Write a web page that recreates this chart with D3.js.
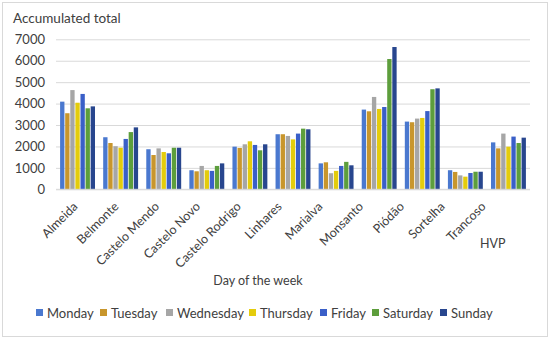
<!DOCTYPE html>
<html><head><meta charset="utf-8">
<script src="https://cdn.jsdelivr.net/npm/d3@7"></script>
<style>body{margin:0;background:#fff}svg{display:block}text{font-family:Lato,"Open Sans",sans-serif;fill:#404040}</style>
</head><body>
<svg id="c" width="550" height="340"></svg>
<script>
const categories = ["Almeida","Belmonte","Castelo Mendo","Castelo Novo","Castelo Rodrigo","Linhares","Marialva","Monsanto","Piódão","Sortelha","Trancoso"];
const days = ["Monday","Tuesday","Wednesday","Thursday","Friday","Saturday","Sunday"];
const monday    = [4090,2430,1870, 890,1990,2570,1210,3720,3160,890,2190];
const tuesday   = [3550,2160,1600, 840,1930,2570,1260,3640,3130,810,1910];
const wednesday = [4630,2010,1910,1090,2100,2490, 750,4310,3300,650,2600];
const thursday  = [4040,1940,1740, 890,2240,2330, 860,3750,3330,590,1990];
const friday    = [4450,2350,1680, 860,2070,2600,1090,3840,3650,760,2460];
const saturday  = [3780,2670,1940,1090,1820,2830,1280,6080,4670,820,2160];
const sunday    = [3870,2890,1940,1210,2100,2800,1120,6640,4710,820,2410];
const series = [monday,tuesday,wednesday,thursday,friday,saturday,sunday];
const colors = ["#4a78cf","#c8962c","#a6a6a6","#e4cc0c","#3a5fc8","#5d9e3c","#28468e"];
const yTicks = [0,1000,2000,3000,4000,5000,6000,7000];

const svg = d3.select("#c");
svg.append("rect").attr("x",2.5).attr("y",2.5).attr("width",545).attr("height",334)
  .attr("fill","#fff").attr("stroke","#d9d9d9");

const x0 = d3.scaleBand().domain(categories).range([56,530]).paddingInner(0.19).paddingOuter(0.095);
const x1 = d3.scaleBand().domain(days).range([0,x0.bandwidth()]).paddingInner(0.15);
const xl = d3.scalePoint().domain(categories).range([78,486]);
const y = d3.scaleLinear().domain([0,7000]).range([189.3,39.3]);

const yAxis = d3.axisLeft(y).tickValues(yTicks).tickSize(-(530-56)).tickFormat(d3.format("d"));
const gy = svg.append("g").attr("transform","translate(56,0)").call(yAxis);
gy.select(".domain").remove();
gy.selectAll(".tick line").attr("stroke","#d9d9d9");
gy.selectAll(".tick text").attr("x",-11).style("font-size","13px").attr("fill","#404040");

const g = svg.append("g");
categories.forEach((c,i)=>{
  days.forEach((d,j)=>{
    g.append("rect")
      .attr("x",x0(c)+x1(d)).attr("width",x1.bandwidth())
      .attr("y",y(series[j][i])).attr("height",y(0)-y(series[j][i]))
      .attr("fill",colors[j]);
  });
});

svg.append("line").attr("x1",56).attr("x2",530).attr("y1",y(0)).attr("y2",y(0)).attr("stroke","#d9d9d9");

const xAxis = d3.axisBottom(xl).tickSize(0);
const gx = svg.append("g").attr("transform","translate(0,"+y(0)+")").call(xAxis);
gx.select(".domain").remove();
gx.selectAll(".tick text").attr("text-anchor","end").attr("dy",0).attr("y",0)
  .attr("transform","translate(0,18) rotate(-45)").style("font-size","12.5px").attr("fill","#404040");

svg.append("text").attr("x",13).attr("y",23).text("Accumulated total").style("font-size","13.5px");
svg.append("text").attr("x",480).attr("y",248).text("HVP").style("font-size","12.5px");
svg.append("text").attr("x",258).attr("y",285).attr("text-anchor","middle").text("Day of the week").style("font-size","12.5px");

const legX = [36,100,166,249,320,372,440];
const leg = svg.append("g");
days.forEach((d,j)=>{
  leg.append("rect").attr("x",legX[j]).attr("y",309).attr("width",7).attr("height",7).attr("fill",colors[j]);
  leg.append("text").attr("x",legX[j]+11).attr("y",317.5).text(d).style("font-size","13px");
});
</script>
</body></html>
